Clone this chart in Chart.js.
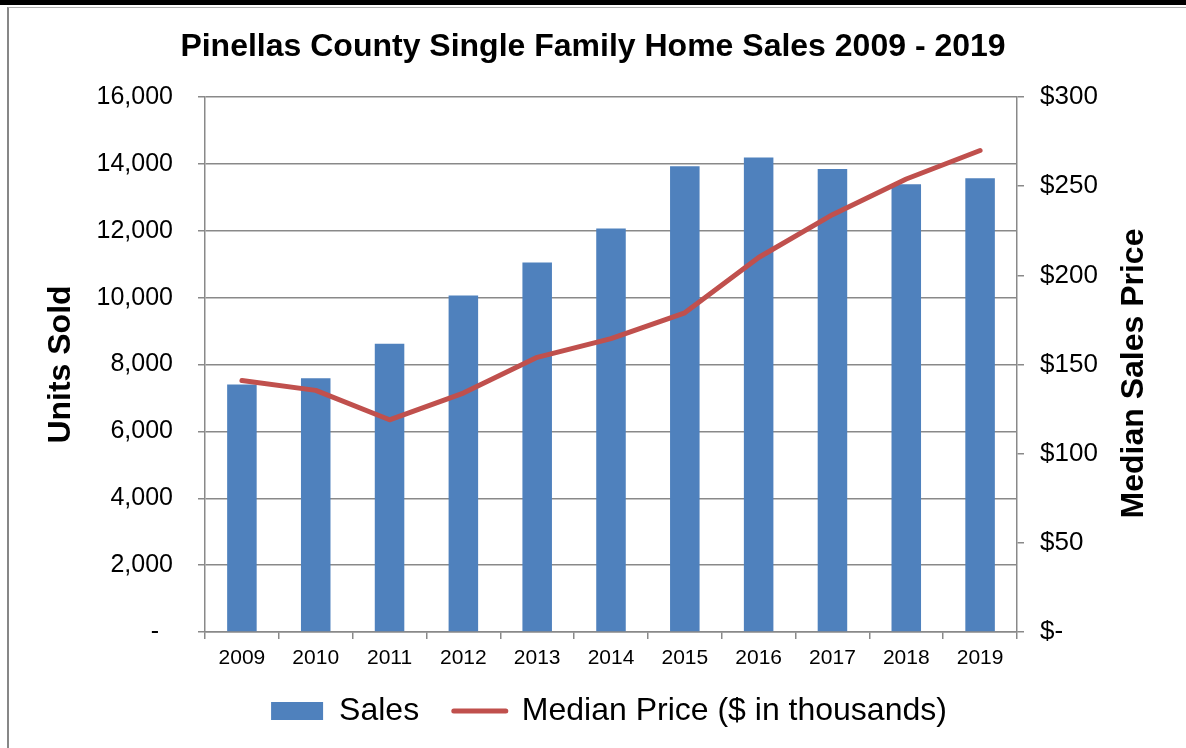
<!DOCTYPE html>
<html>
<head>
<meta charset="utf-8">
<title>Pinellas County Single Family Home Sales 2009 - 2019</title>
<script src="https://cdn.jsdelivr.net/npm/chart.js@4.4.1/dist/chart.umd.min.js"></script>
<style>
  html, body { margin: 0; padding: 0; background: #fff; }
  #wrap { position: relative; width: 1186px; height: 748px; overflow: hidden; }
  .topbar { position: absolute; left: 0; top: 0; width: 1186px; height: 5px; background: #000; }
  .frame { position: absolute; left: 7px; top: 7px; width: 1179px; height: 741px;
           border-top: 1px solid #b0b0b0; border-left: 2px solid #878787; box-sizing: border-box; }
  canvas { position: absolute; left: 0; top: 0; }
</style>
</head>
<body>
<div id="wrap">
  <div class="topbar"></div>
  <div class="frame"></div>
  <canvas id="salesChart" width="1186" height="748"></canvas>
</div>
<script>
// data
const years = ["2009", "2010", "2011", "2012", "2013", "2014", "2015", "2016", "2017", "2018", "2019"];
const unitsSold = [7400, 7590, 8620, 10060, 11050, 12070, 13930, 14190, 13850, 13390, 13570];
const medianPrice = [141, 135.5, 119, 134, 154, 164.5, 179, 210, 234, 254, 270];

const unitTicks = [0, 2000, 4000, 6000, 8000, 10000, 12000, 14000, 16000];
const priceTicks = [0, 50, 100, 150, 200, 250, 300];

const FONT = "'Liberation Sans', Arial, sans-serif";
const GRID = "#898989";

// right axis title reads bottom-to-top, so draw it ourselves
const rightTitle = {
  id: "rightTitle",
  afterDraw(chart) {
    const { ctx, chartArea } = chart;
    ctx.save();
    ctx.translate(1134, (chartArea.top + chartArea.bottom) / 2 + 9);
    ctx.rotate(-Math.PI / 2);
    ctx.font = "bold 32px " + FONT;
    ctx.fillStyle = "#000";
    ctx.textAlign = "center";
    ctx.textBaseline = "middle";
    ctx.fillText("Median Sales Price", 0, 0);
    ctx.restore();
  }
};

// nudge the legend a little right, like the original
const legendShift = {
  id: "legendShift",
  afterLayout(chart) {
    if (chart.legend) {
      chart.legend.left += 16;
      chart.legend.right += 16;
    }
  }
};

const ctx = document.getElementById("salesChart").getContext("2d");
new Chart(ctx, {
  type: "bar",
  data: {
    labels: years,
    datasets: [
      {
        type: "line",
        label: "Median Price ($ in thousands)",
        data: medianPrice,
        yAxisID: "y1",
        borderColor: "#C0504D",
        backgroundColor: "#C0504D",
        borderWidth: 5,
        borderCapStyle: "round",
        borderJoinStyle: "round",
        pointRadius: 0,
        tension: 0,
        order: 0
      },
      {
        label: "Sales",
        data: unitsSold,
        yAxisID: "y",
        backgroundColor: "#4F81BD",
        borderWidth: 0,
        barPercentage: 0.4,
        categoryPercentage: 1.0,
        order: 1
      }
    ]
  },
  options: {
    responsive: false,
    animation: false,
    layout: { padding: { left: 0, right: 0, top: 0, bottom: 11 } },
    plugins: {
      title: {
        display: true,
        text: "Pinellas County Single Family Home Sales 2009 - 2019",
        color: "#000",
        font: { family: FONT, size: 32, weight: "bold", lineHeight: 1.2 },
        padding: { top: 28, bottom: 30.6 }
      },
      legend: {
        position: "bottom",
        labels: {
          color: "#000",
          font: { family: FONT, size: 32 },
          usePointStyle: true,
          pointStyleWidth: 52,
          boxHeight: 18,
          padding: 8,
          generateLabels(chart) {
            const bar = chart.data.datasets[1];
            const line = chart.data.datasets[0];
            return [
              { text: bar.label + "   ", fillStyle: bar.backgroundColor, strokeStyle: bar.backgroundColor,
                lineWidth: 0, pointStyle: "rect", datasetIndex: 1, fontColor: "#000" },
              { text: line.label, fillStyle: line.borderColor, strokeStyle: line.borderColor,
                lineWidth: 5, lineCap: "round", pointStyle: "line", datasetIndex: 0, fontColor: "#000" }
            ];
          }
        }
      },
      tooltip: { enabled: false }
    },
    scales: {
      x: {
        offset: true,
        grid: { offset: true, drawOnChartArea: false, drawTicks: true, tickLength: 7, color: GRID, lineWidth: 1.5 },
        border: { color: GRID, width: 1.5 },
        ticks: { color: "#000", font: { family: FONT, size: 21 }, padding: 7, maxRotation: 0 },
        afterFit(scale) { scale.height = 55; }
      },
      y: {
        position: "left",
        min: 0,
        max: 16000,
        afterBuildTicks(scale) { scale.ticks = unitTicks.map(v => ({ value: v })); },
        grid: { color: GRID, lineWidth: 1.5, tickLength: 7 },
        border: { color: GRID, width: 1.5 },
        ticks: {
          color: "#000",
          font: { family: FONT, size: 25 },
          padding: 25,
          callback: v => v === 0 ? "-  " : v.toLocaleString("en-US")
        },
        title: {
          display: true,
          text: "Units Sold",
          color: "#000",
          font: { family: FONT, size: 32, weight: "bold", lineHeight: 1.2 },
          padding: { top: 42, bottom: 0 }
        },
        afterFit(scale) { scale.width = 205; }
      },
      y1: {
        position: "right",
        min: 0,
        max: 300,
        afterBuildTicks(scale) { scale.ticks = priceTicks.map(v => ({ value: v })); },
        grid: { drawOnChartArea: false, color: GRID, lineWidth: 1.5, tickLength: 7 },
        border: { color: GRID, width: 1.5 },
        ticks: {
          color: "#000",
          font: { family: FONT, size: 26 },
          padding: 16,
          callback: v => v === 0 ? "$-" : "$" + v
        },
        afterFit(scale) { scale.width = 169; }
      }
    }
  },
  plugins: [rightTitle, legendShift]
});
</script>
</body>
</html>
